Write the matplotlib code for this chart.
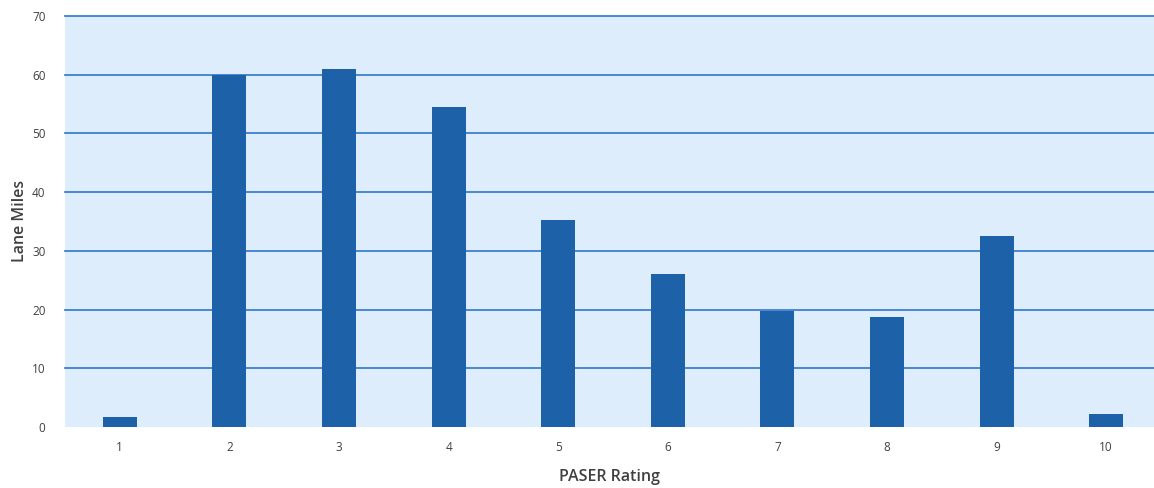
import matplotlib.pyplot as plt

# PASER rating distribution (lane miles)
ratings = [1, 2, 3, 4, 5, 6, 7, 8, 9, 10]
lane_miles = [1.7, 60.0, 61.0, 54.5, 35.3, 26.1, 19.8, 18.7, 32.5, 2.2]
y_ticks = [0, 10, 20, 30, 40, 50, 60, 70]

plt.rcParams['font.family'] = ['Open Sans', 'DejaVu Sans']

fig = plt.figure(figsize=(11.54, 4.88), dpi=100)
ax = fig.add_axes([65/1154, 1 - 427/488, 1 - 65/1154, (427 - 16)/488])
ax.set_facecolor('#deedfb')

ax.bar(ratings, lane_miles, width=0.31, color='#1d62a8', zorder=3)

ax.set_ylim(0, 70)
ax.set_xlim(0.5, 0.5 + (1154 - 65)/109.6)
ax.set_yticks(y_ticks)
ax.set_xticks(ratings)
ax.set_xticklabels([str(r) for r in ratings])
# gridlines at 10..70 only, no line on the baseline
for y in y_ticks[1:]:
    ax.axhline(y, color='#3d80d2', linewidth=1.3, zorder=1, clip_on=False)
ax.tick_params(axis='both', length=0, labelsize=8.5, labelcolor='#404040')
ax.tick_params(axis='x', pad=10)
ax.tick_params(axis='y', pad=14)
for s in ax.spines.values():
    s.set_visible(False)

ax.set_ylabel('Lane Miles', fontsize=11.5, fontweight='semibold', color='#404040', labelpad=3)
ax.set_xlabel('PASER Rating', fontsize=11.5, fontweight='semibold', color='#404040', labelpad=11)

fig.savefig('out.png', dpi=100)
plt.close()
